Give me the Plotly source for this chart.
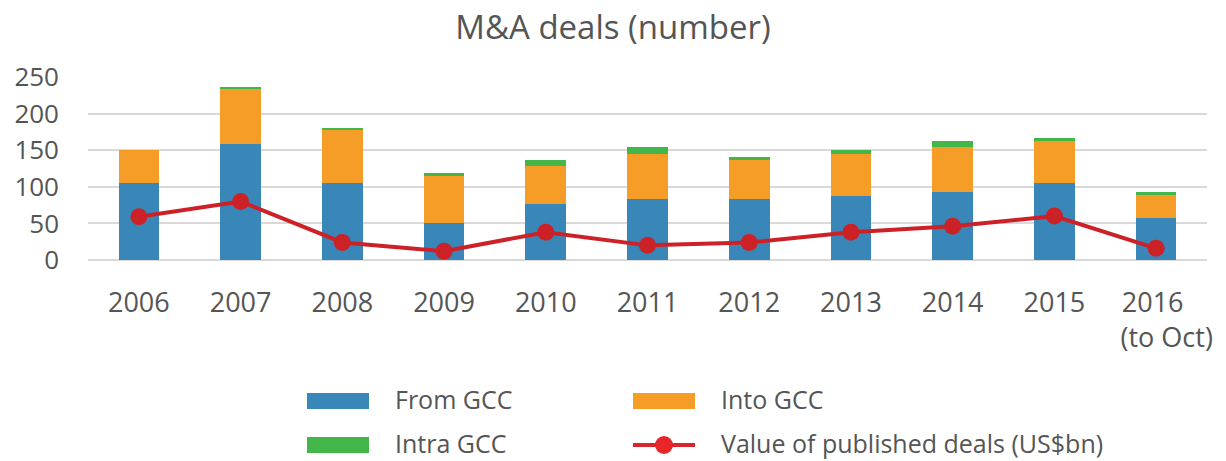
import plotly.graph_objects as go

years = ["2006", "2007", "2008", "2009", "2010", "2011", "2012", "2013", "2014", "2015", "2016"]
tick_labels = ["2006", "2007", "2008", "2009", "2010", "2011", "2012", "2013", "2014", "2015",
               "2016&nbsp;<br>&nbsp;&nbsp;&nbsp;(to Oct)"]
from_gcc = [105, 158, 105, 50, 76, 84, 84, 88, 93, 105, 58]
into_gcc = [45, 75, 72, 65, 52, 61, 53, 57, 62, 58, 31]
intra_gcc = [0, 4, 4, 4, 9, 9, 4, 5, 8, 4, 4]
value_bn = [59, 80, 24, 12, 38, 20, 24, 38, 46, 60, 16]

series_names = ["From GCC", "Into GCC", "Intra GCC"]
line_name = "Value of published deals (US$bn)"

BLUE = "#3887b8"
ORANGE = "#f59d27"
GREEN = "#43b649"
RED = "#cd2128"
LEG_RED = "#e8262a"
FONT = "Open Sans"
TXT = "#555555"

W, H = 1226, 461
ML, MR, MT, MB = 88, 19, 77, 201
PW, PH = W - ML - MR, H - MT - MB


def px(x):
    return (x - ML) / PW


def py(y):
    return (H - MB - y) / PH


fig = go.Figure()
for name, vals, col in zip(series_names, [from_gcc, into_gcc, intra_gcc], [BLUE, ORANGE, GREEN]):
    fig.add_trace(go.Bar(x=years, y=vals, name=name, marker=dict(color=col, line=dict(width=0)),
                         showlegend=False))

fig.add_trace(go.Scatter(x=years, y=value_bn, mode="lines+markers", name=line_name,
                         line=dict(color=RED, width=4), marker=dict(color=RED, size=17, symbol="circle"),
                         showlegend=False))

# manual legend (two columns, two rows)
shapes = []
annotations = []
legend_items = [
    (series_names[0], BLUE, 307, 401, "box"),
    (series_names[1], ORANGE, 633, 401, "box"),
    (series_names[2], GREEN, 307, 445, "box"),
    (line_name, LEG_RED, 633, 445, "line"),
]
SW = 62
for name, col, x0, yc, kind in legend_items:
    if kind == "box":
        shapes.append(dict(type="rect", xref="paper", yref="paper",
                           x0=px(x0), x1=px(x0 + SW), y0=py(yc + 8), y1=py(yc - 8),
                           fillcolor=col, line=dict(width=0), layer="above"))
    else:
        shapes.append(dict(type="line", xref="paper", yref="paper",
                           x0=px(x0), x1=px(x0 + SW), y0=py(yc), y1=py(yc),
                           line=dict(color="#d9262c", width=4), layer="above"))
        shapes.append(dict(type="circle", xref="paper", yref="paper",
                           xsizemode="pixel", ysizemode="pixel",
                           xanchor=px(x0 + SW / 2), yanchor=py(yc),
                           x0=-9, x1=9, y0=-9, y1=9,
                           fillcolor=col, line=dict(width=0), layer="above"))
    annotations.append(dict(text=name, xref="paper", yref="paper", x=px(x0 + SW + 24), y=py(yc - 2),
                            xanchor="left", yanchor="middle", showarrow=False,
                            font=dict(family=FONT, size=25, color=TXT)))

fig.update_layout(
    width=W, height=H,
    barmode="stack", bargap=0.6,
    plot_bgcolor="white", paper_bgcolor="white",
    font=dict(family=FONT, size=25, color=TXT),
    title=dict(text="M&A deals (number)", x=0.5, xanchor="center", y=0.94, yanchor="middle",
               font=dict(family=FONT, size=33, color=TXT)),
    margin=dict(l=ML, r=MR, t=MT, b=MB),
    showlegend=False,
    shapes=shapes,
    annotations=annotations,
    xaxis=dict(range=[-0.5, 10.5], showgrid=False, showline=False, ticks="", ticklabelstandoff=24,
               tickmode="array", tickvals=years, ticktext=tick_labels,
               tickfont=dict(family=FONT, size=27, color=TXT)),
    yaxis=dict(range=[0, 250], dtick=50, showgrid=True, gridcolor="#d9d9d9", gridwidth=2,
               zeroline=True, zerolinecolor="#d9d9d9", zerolinewidth=2, showline=False,
               ticklabelstandoff=28, tickfont=dict(family=FONT, size=26, color=TXT)),
)

fig.write_html("out.html")
